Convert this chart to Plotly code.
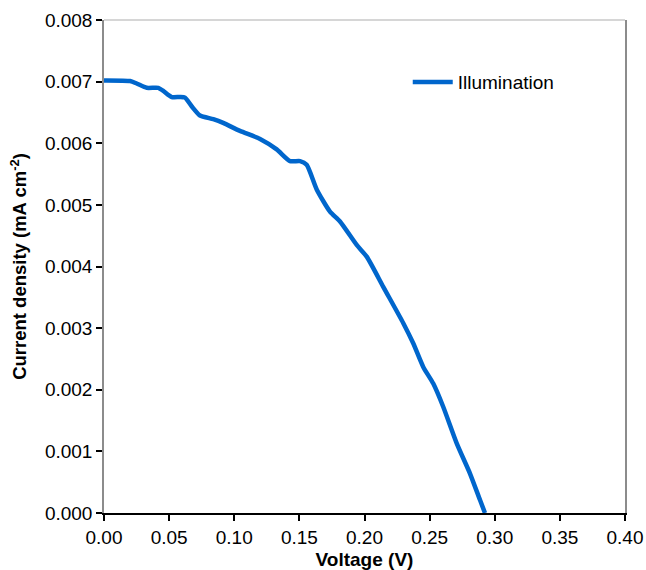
import plotly.graph_objects as go

# J-V curve under illumination
voltage = [0.0, 0.0008, 0.020, 0.0251, 0.0328, 0.0417, 0.0455, 0.0520, 0.0583, 0.0622,
           0.0673, 0.0737, 0.0839, 0.0915, 0.1044, 0.1198, 0.1326, 0.1428, 0.1505,
           0.1556, 0.1633, 0.1735, 0.1812, 0.1940, 0.2017, 0.2144, 0.2298, 0.2375,
           0.2451, 0.2528, 0.2605, 0.2708, 0.2810, 0.2887, 0.2925]
current = [0.00702, 0.00702, 0.00701, 0.00697, 0.00690, 0.00690, 0.00685, 0.00675,
           0.00675, 0.00674, 0.00660, 0.00645, 0.00639, 0.00633, 0.00620, 0.00607,
           0.00590, 0.00571, 0.00571, 0.00565, 0.00525, 0.00489, 0.00473, 0.00435,
           0.00416, 0.00367, 0.00308, 0.00275, 0.00237, 0.00210, 0.00172, 0.00113,
           0.00064, 0.00021, 0.0]

x_ticks = [0.0, 0.05, 0.10, 0.15, 0.20, 0.25, 0.30, 0.35, 0.40]
y_ticks = [0.000, 0.001, 0.002, 0.003, 0.004, 0.005, 0.006, 0.007, 0.008]

font_family = "Liberation Sans, Arial, sans-serif"

fig = go.Figure()
fig.add_trace(go.Scatter(
    x=voltage, y=current, mode="lines", name="Illumination",
    line=dict(color="#0066CC", width=4.5, shape="spline", smoothing=0.6),
))

fig.update_layout(
    width=646, height=570,
    margin=dict(l=104, r=21, t=20, b=57),
    paper_bgcolor="white", plot_bgcolor="white",
    font=dict(family=font_family, size=19, color="black"),
    showlegend=True,
    legend=dict(x=0.583, y=0.874, xanchor="left", yanchor="middle",
                bgcolor="rgba(0,0,0,0)", font=dict(size=19),
                itemwidth=40),
    xaxis=dict(
        range=[0, 0.40], tickvals=x_ticks,
        ticktext=[f"{v:.2f}" for v in x_ticks],
        showgrid=False, zeroline=False, automargin=False,
        showline=True, linecolor="black", linewidth=1.5,
        ticks="outside", ticklen=6, tickcolor="black", tickwidth=1.5,
        tickfont=dict(size=19),
        title=dict(text="<b>Voltage (V)</b>", standoff=8, font=dict(size=19)),
    ),
    yaxis=dict(
        range=[0, 0.008], tickvals=y_ticks,
        ticktext=[f"{v:.3f}" for v in y_ticks],
        showgrid=False, zeroline=False, automargin=False,
        showline=True, linecolor="#8c8c8c", linewidth=1.5, mirror=True,
        ticks="outside", ticklen=6, tickcolor="black", tickwidth=1.5,
        tickfont=dict(size=19),
        title=dict(text="<b>Current density (mA cm<sup>-2</sup>)</b>", standoff=13,
                   font=dict(size=18.5)),
    ),
    shapes=[dict(type="line", xref="paper", yref="paper", x0=0, x1=1, y0=1, y1=1,
                 line=dict(color="#c8c8c8", width=1.5))],
)

fig.write_html("out.html")
